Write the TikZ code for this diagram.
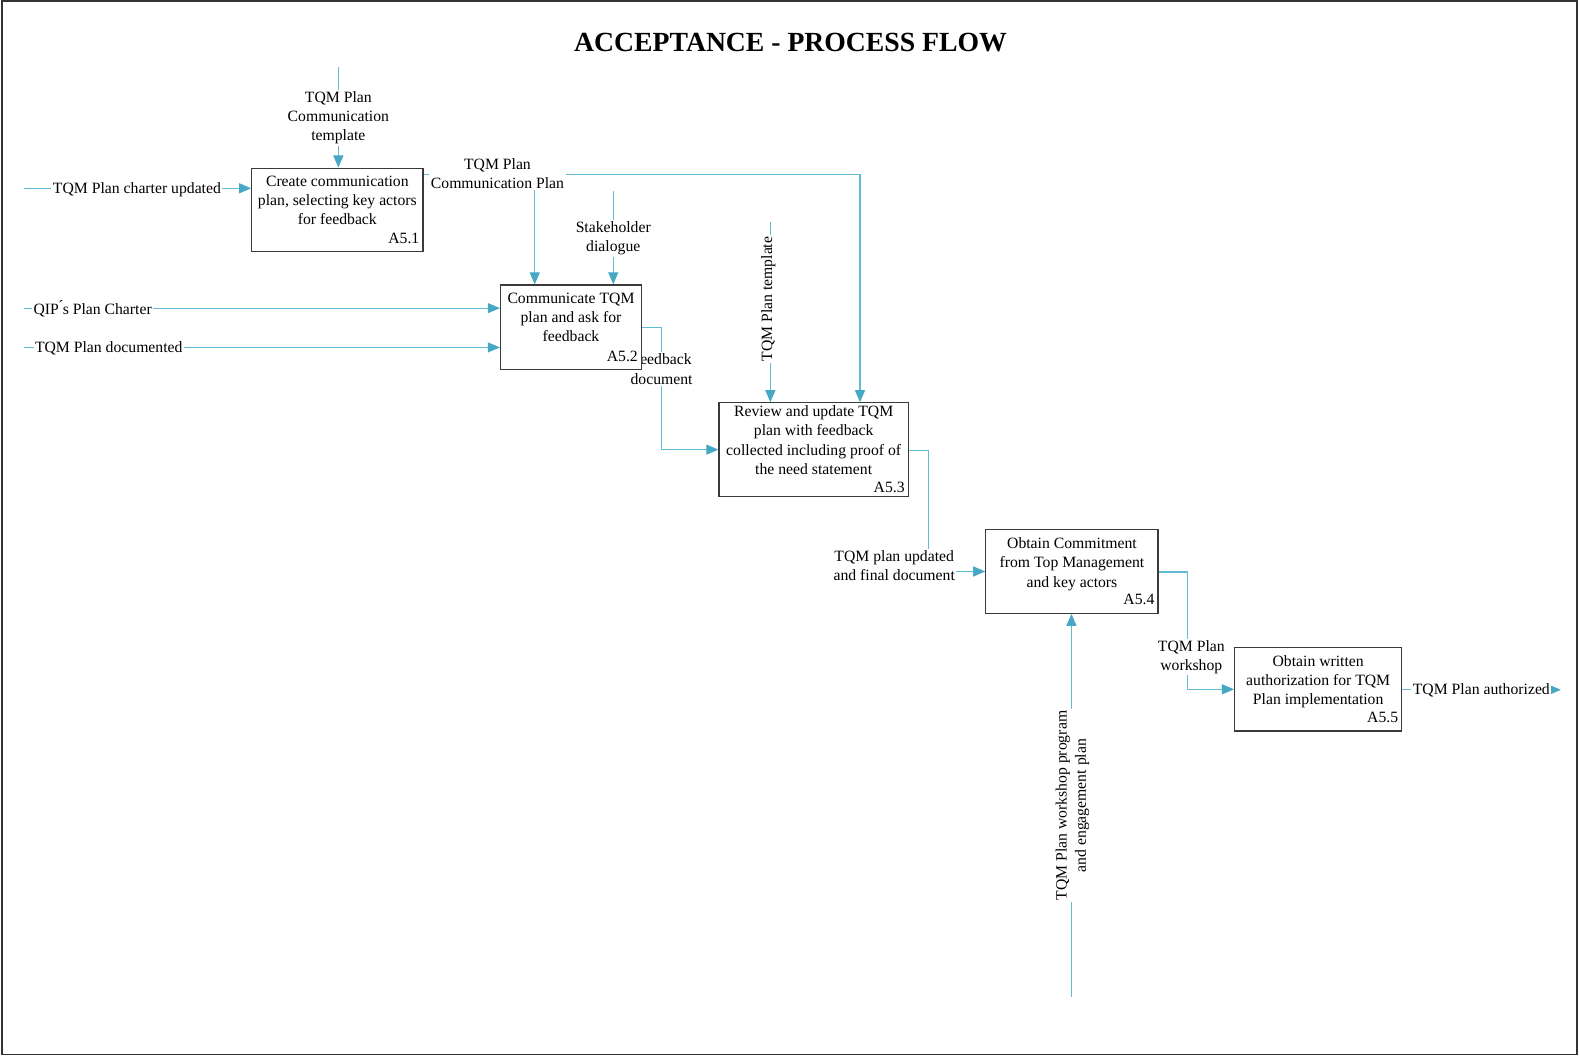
\documentclass[tikz,border=0pt]{standalone}
\usepackage{fontspec}
\setmainfont{Liberation Serif}
\usetikzlibrary{arrows.meta}
\definecolor{linec}{HTML}{62BCD5}
\definecolor{tipc}{HTML}{47A8C5}
\definecolor{framec}{HTML}{333333}
\definecolor{boxc}{HTML}{3A3A3A}
\pgfdeclarelayer{background}
\pgfsetlayers{background,main}
\tikzset{
  txt/.style={font=\fontsize{15.6}{19}\selectfont, inner sep=0pt, align=center},
  actbox/.style={draw=boxc, line width=1.2pt, fill=white, inner sep=0pt},
  boxtext/.style={txt, anchor=north},
  boxid/.style={txt, anchor=base east},
  flow/.style={draw=linec, line width=1.1pt, -{Triangle[length=12pt,width=10pt,color=tipc]}},
  lbl/.style={txt, fill=white, inner sep=1.5pt},
}
\begin{document}
\begin{tikzpicture}[x=1pt,y=-1pt]
\useasboundingbox (0,0) rectangle (1568,1049);
\draw[framec, line width=1.3pt] (2,1) rectangle (1566,1047);

% title
\node[font=\fontsize{27.5}{32}\selectfont\bfseries, inner sep=0pt] (title) at (785,42) {ACCEPTANCE - PROCESS FLOW};

% activity boxes
\node[actbox, minimum width=170pt, minimum height=83pt] (b1) at (335,208.5) {};
\node[actbox, minimum width=140pt, minimum height=84pt] (b2) at (567,325) {};
\node[actbox, minimum width=188pt, minimum height=93pt] (b3) at (808,446.5) {};
\node[actbox, minimum width=171pt, minimum height=83pt] (b4) at (1064.5,567.5) {};
\node[actbox, minimum width=166pt, minimum height=83pt] (b5) at (1309,684.5) {};

\node[boxtext] (t1) at ([yshift=-8.5pt]b1.north) {Create communication\\plan, selecting key actors\\for feedback};
\node[boxid] (i1) at ([xshift=-4pt,yshift=9pt]b1.south east) {A5.1};
\node[boxtext] (t2) at ([yshift=-8.5pt]b2.north) {Communicate TQM\\plan and ask for\\feedback};
\node[boxid] (i2) at ([xshift=-4pt,yshift=9pt]b2.south east) {A5.2};
\node[boxtext] (t3) at ([yshift=-3.5pt]b3.north) {Review and update TQM\\plan with feedback\\collected including proof of\\the need statement};
\node[boxid] (i3) at ([xshift=-4pt,yshift=5pt]b3.south east) {A5.3};
\node[boxtext] (t4) at ([yshift=-8.5pt]b4.north) {Obtain Commitment\\from Top Management\\and key actors};
\node[boxid] (i4) at ([xshift=-4pt,yshift=9pt]b4.south east) {A5.4};
\node[boxtext] (t5) at ([yshift=-8.5pt]b5.north) {Obtain written\\authorization for TQM\\Plan implementation};
\node[boxid] (i5) at ([xshift=-4pt,yshift=9pt]b5.south east) {A5.5};

% free ends and bends of the arrows
\coordinate (c1) at (336,67);
\coordinate (a1) at (24,187);
\coordinate (k1) at (854,173);
\coordinate (k2) at (531,173);
\coordinate (c2) at (609,190);
\coordinate (a2) at (24,306);
\coordinate (a3) at (24,345);
\coordinate (k3) at (657,325);
\coordinate (c3) at (765,220);
\coordinate (k4) at (922,447);
\coordinate (k5) at (1179,568);
\coordinate (m4) at (1064,990);
\coordinate (e5) at (1550,685);

\begin{pgfonlayer}{background}
% arrows
\draw[flow] (c1) -- (c1 |- b1.north);
\draw[flow] (a1) -- (a1 -| b1.west);
\draw[flow] (b1.east |- k1) -- (k1) -- (k1 |- b3.north);
\draw[flow] (k2) -- (k2 |- b2.north);
\draw[flow] (c2) -- (c2 |- b2.north);
\draw[flow] (a2) -- (a2 -| b2.west);
\draw[flow] (a3) -- (a3 -| b2.west);
\draw[flow] (b2.east |- k3) -- (k3) |- (b3.west);
\draw[flow] (c3) -- (c3 |- b3.north);
\draw[flow] (b3.east |- k4) -- (k4) |- (b4.west);
\draw[flow] (b4.east |- k5) -- (k5) |- (b5.west);
\draw[flow] (m4) -- (m4 |- b4.south);
\draw[flow] (b5.east |- e5) -- (e5);

% arrow labels
\node[lbl] (l1) at (336,117) {TQM Plan\\Communication\\template};
\node[lbl] (l2) at (136,188) {TQM Plan charter updated};
\node[lbl] (l3) at (494,172.5) {TQM Plan\\Communication Plan};
\node[lbl] (l4) at (609,237) {Stakeholder\\dialogue};
\node[lbl] (l5) at (92,307) {QIP\'{}s Plan Charter};
\node[lbl] (l6) at (108,346) {TQM Plan documented};
\node[lbl] (l7) at (657,366.5) {Feedback\\document};
\node[lbl, rotate=90] (l8) at (763,297) {TQM Plan template};
\node[lbl] (l9) at (888,561.5) {TQM plan updated\\and final document};
\node[lbl] (l10) at (1183,652.5) {TQM Plan\\workshop};
\node[lbl, rotate=90] (l11) at (1065,800) {TQM Plan workshop program\\and engagement plan};
\node[lbl] (l12) at (1471,686) {TQM Plan authorized};
\end{pgfonlayer}
\end{tikzpicture}
\end{document}
